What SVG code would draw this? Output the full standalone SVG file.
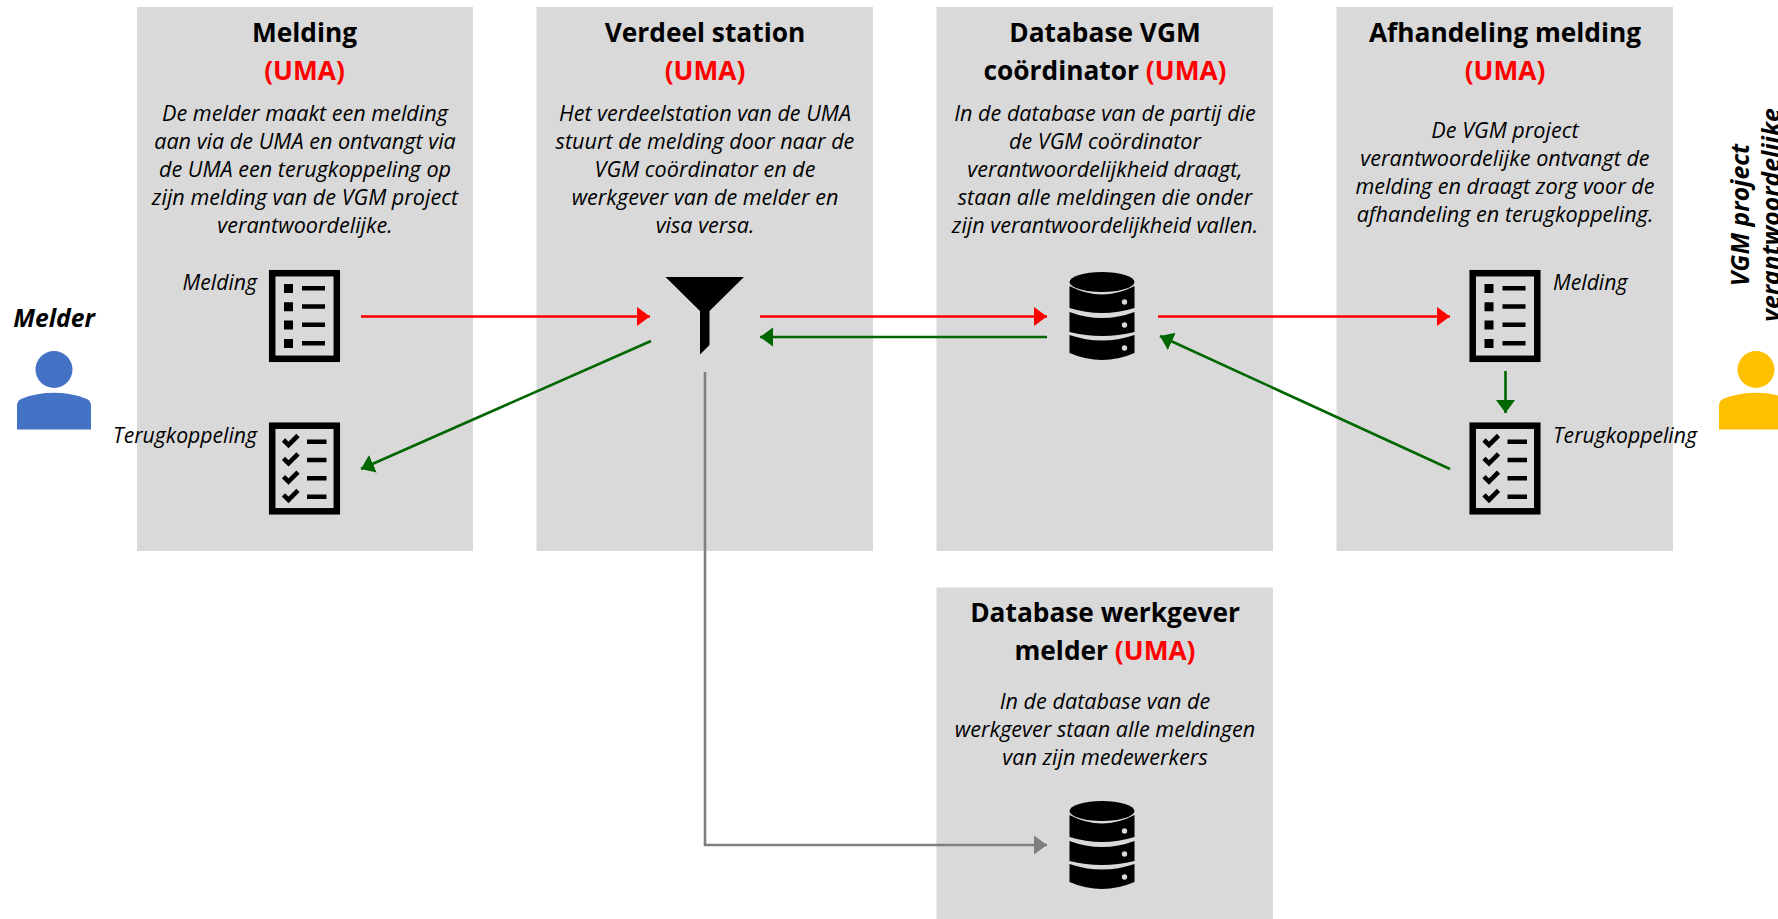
<svg xmlns="http://www.w3.org/2000/svg" xmlns:xlink="http://www.w3.org/1999/xlink" width="1778" height="919" viewBox="0 0 1778 919">
<style>
text{font-family:"Open Sans","Noto Sans","Liberation Sans",sans-serif;fill:#000}
.box{fill:#d9d9d9}
.t{font-size:26.300px;font-weight:700;text-anchor:middle}
.r{fill:#f00}
.b{font-size:21.600px;font-style:italic;text-anchor:middle}
.l{font-size:21.200px;font-style:italic}
.a{font-size:24.700px;font-weight:700;font-style:italic;text-anchor:middle}
.c{fill:none;stroke-width:2.600}
</style>
<defs>
<marker id="mr" markerUnits="userSpaceOnUse" markerWidth="14" markerHeight="20" refX="13" refY="9.500" orient="auto"><path d="M0 0L13 9.500L0 19Z" fill="#f00"/></marker>
<marker id="mg" markerUnits="userSpaceOnUse" markerWidth="14" markerHeight="20" refX="13" refY="9.500" orient="auto"><path d="M0 0L13 9.500L0 19Z" fill="#006600"/></marker>
<marker id="mx" markerUnits="userSpaceOnUse" markerWidth="14" markerHeight="20" refX="13" refY="9.500" orient="auto"><path d="M0 0L13 9.500L0 19Z" fill="#7f7f7f"/></marker>
<g id="list">
<rect x="3.200" y="3.200" width="64.600" height="85.600" fill="none" stroke="#000" stroke-width="6.500"/>
<path d="M15 14h9v9h-9zM15 32.300h9v9h-9zM15 50.600h9v9h-9zM15 68.900h9v9h-9z"/>
<path d="M33 16h23v4.500h-23zM33 34.300h23v4.500h-23zM33 52.600h23v4.500h-23zM33 70.900h23v4.500h-23z"/>
</g>
<g id="check">
<rect x="3.200" y="3.200" width="64.600" height="85.600" fill="none" stroke="#000" stroke-width="6.500"/>
<path d="M14.500 17.500L19.500 22.500L29 13M14.500 35.800L19.500 40.800L29 31.300M14.500 54.100L19.500 59.100L29 49.600M14.500 72.400L19.500 77.400L29 67.900" fill="none" stroke="#000" stroke-width="4.600"/>
<path d="M38 17h19.500v4.500h-19.500zM38 35.300h19.500v4.500h-19.500zM38 53.600h19.500v4.500h-19.500zM38 71.900h19.500v4.500h-19.500z"/>
</g>
<g id="db">
<ellipse cx="0" cy="10" rx="32.500" ry="10"/>
<path d="M-32.500 14Q0 31 32.500 14V36Q0 46-32.500 36Z"/>
<path d="M-32.500 40Q0 52 32.500 40V60Q0 68-32.500 60Z"/>
<path d="M-32.500 63Q0 74 32.500 63V81Q0 95-32.500 81Z"/>
<circle cx="22.500" cy="30" r="2.700" fill="#d9d9d9"/><circle cx="22.500" cy="53" r="2.700" fill="#d9d9d9"/><circle cx="22.500" cy="76" r="2.700" fill="#d9d9d9"/>
</g>
<g id="person">
<circle cx="0" cy="0" r="18.500"/>
<path d="M-37 60V36Q-37 32-33 29.500C-22 25-11 23.300 0 23.300C11 23.300 22 25 33 29.500Q37 32 37 36V60Z"/>
</g>
</defs>

<g id="node-melding">
<rect class="box" x="137" y="7" width="336" height="544"/>
<text class="t" x="304.500" y="42">Melding</text>
<text class="t r" x="304.500" y="80">(UMA)</text>
<text class="b" x="305" y="121">De melder maakt een melding</text>
<text class="b" x="305" y="149">aan via de UMA en ontvangt via</text>
<text class="b" x="305" y="177">de UMA een terugkoppeling op</text>
<text class="b" x="305" y="205">zijn melding van de VGM project</text>
<text class="b" x="305" y="233">verantwoordelijke.</text>
<use xlink:href="#list" href="#list" x="269" y="270"/>
<use xlink:href="#check" href="#check" x="269" y="422.500"/>
</g>
<g id="node-verdeel">
<rect class="box" x="536.500" y="7" width="336.500" height="544"/>
<text class="t" x="705" y="42">Verdeel station</text>
<text class="t r" x="705" y="80">(UMA)</text>
<text class="b" x="705" y="121">Het verdeelstation van de UMA</text>
<text class="b" x="705" y="149">stuurt de melding door naar de</text>
<text class="b" x="705" y="177">VGM coördinator en de</text>
<text class="b" x="705" y="205">werkgever van de melder en</text>
<text class="b" x="705" y="233">visa versa.</text>
<path d="M665.500 277H744L709.500 311V345L700 354.500V311Z"/>
</g>
<g id="node-database-vgm">
<rect class="box" x="936.500" y="7" width="336.500" height="544"/>
<text class="t" x="1105" y="42">Database VGM</text>
<text class="t" x="1105" y="80">coördinator <tspan class="r">(UMA)</tspan></text>
<text class="b" x="1105" y="121">In de database van de partij die</text>
<text class="b" x="1105" y="149">de VGM coördinator</text>
<text class="b" x="1105" y="177">verantwoordelijkheid draagt,</text>
<text class="b" x="1105" y="205">staan alle meldingen die onder</text>
<text class="b" x="1105" y="233">zijn verantwoordelijkheid vallen.</text>
<use xlink:href="#db" href="#db" x="1102" y="272"/>
</g>
<g id="node-afhandeling">
<rect class="box" x="1336.500" y="7" width="336.500" height="544"/>
<text class="t" x="1505" y="42">Afhandeling melding</text>
<text class="t r" x="1505" y="80">(UMA)</text>
<text class="b" x="1505" y="138">De VGM project</text>
<text class="b" x="1505" y="166">verantwoordelijke ontvangt de</text>
<text class="b" x="1505" y="194">melding en draagt zorg voor de</text>
<text class="b" x="1505" y="222">afhandeling en terugkoppeling.</text>
<use xlink:href="#list" href="#list" x="1469.500" y="270"/>
<use xlink:href="#check" href="#check" x="1469.500" y="422.500"/>
</g>
<g id="node-database-werkgever">
<rect class="box" x="936.500" y="587.500" width="336.500" height="331.500"/>
<text class="t" x="1105" y="622">Database werkgever</text>
<text class="t" x="1105" y="660">melder <tspan class="r">(UMA)</tspan></text>
<text class="b" x="1105" y="709">In de database van de</text>
<text class="b" x="1105" y="737">werkgever staan alle meldingen</text>
<text class="b" x="1105" y="765">van zijn medewerkers</text>
<use xlink:href="#db" href="#db" x="1102" y="801"/>
</g>
<g id="labels">
<text class="l" x="257" y="289.500" text-anchor="end">Melding</text>
<text class="l" x="257" y="442.500" text-anchor="end">Terugkoppeling</text>
<text class="l" x="1553" y="289.500">Melding</text>
<text class="l" x="1553" y="442.500">Terugkoppeling</text>
</g>
<g id="node-melder">
<text class="a" x="54" y="327">Melder</text>
<use xlink:href="#person" href="#person" x="54" y="369.500" fill="#4472c4"/>
</g>
<g id="node-vgm-project">
<text class="a" transform="translate(1749 215) rotate(-90)">VGM project</text>
<text class="a" transform="translate(1780 215) rotate(-90)">verantwoordelijke</text>
<use xlink:href="#person" href="#person" x="1756" y="369.500" fill="#ffc000"/>
</g>
<g id="connectors">
<path class="c" stroke="#f00" marker-end="url(#mr)" d="M361 316.500H650"/>
<path class="c" stroke="#f00" marker-end="url(#mr)" d="M760 316.500H1047"/>
<path class="c" stroke="#f00" marker-end="url(#mr)" d="M1158 316.500H1450"/>
<path class="c" stroke="#006600" marker-end="url(#mg)" d="M1047 337H760"/>
<path class="c" stroke="#006600" marker-end="url(#mg)" d="M651 341L361 469"/>
<path class="c" stroke="#006600" marker-end="url(#mg)" d="M1450 469L1160 336"/>
<path class="c" stroke="#006600" marker-end="url(#mg)" d="M1505.500 371V413"/>
<path class="c" stroke="#7f7f7f" marker-end="url(#mx)" d="M705 372V845H1047"/>
</g>
</svg>
